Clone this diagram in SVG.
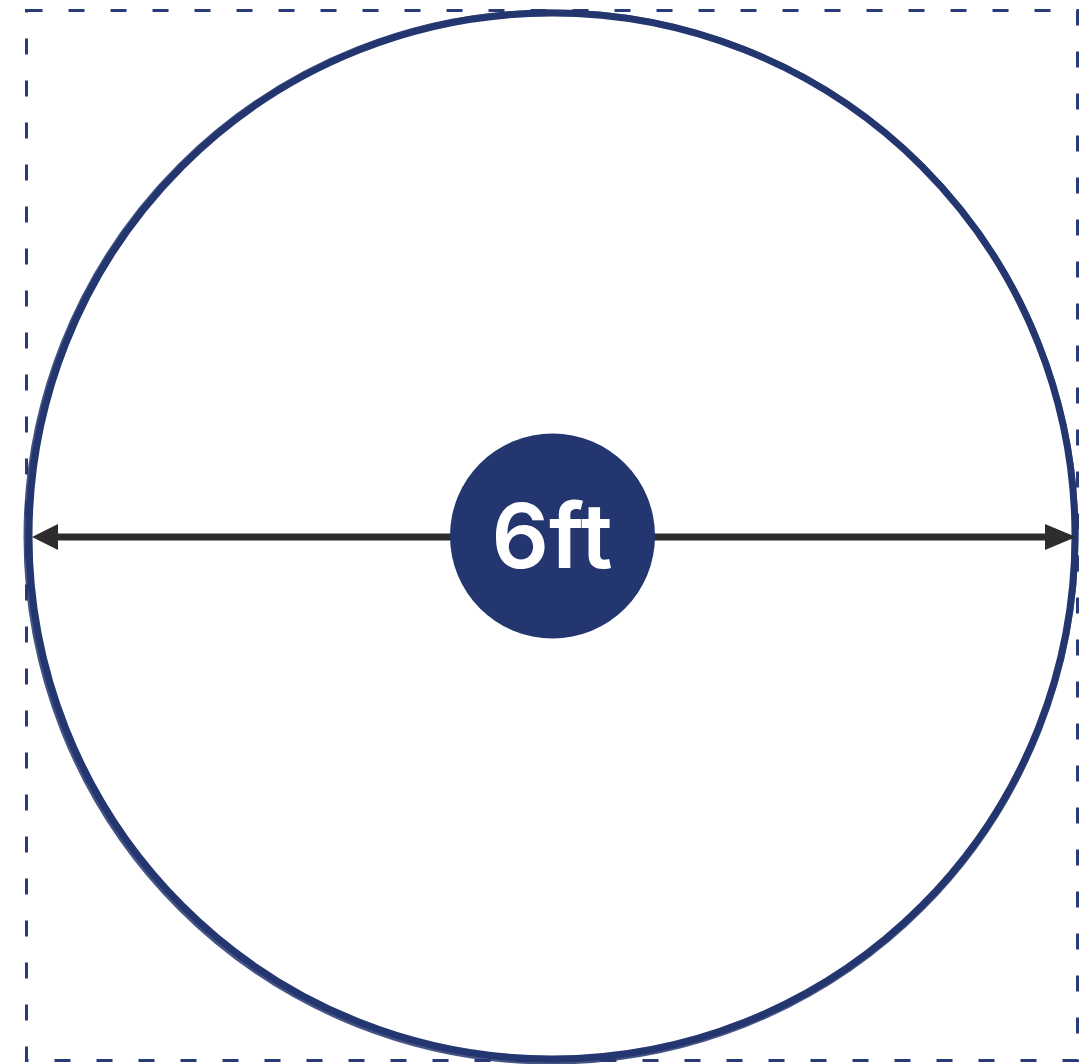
<svg xmlns="http://www.w3.org/2000/svg" width="1083" height="1064" viewBox="0 0 1083 1064">
<style>
.border{fill:none;stroke:#2b3a78;stroke-width:3;stroke-dasharray:16 26}
.ring{fill:none;stroke:#24366f;stroke-width:7}
.ring2{fill:none;stroke:#24366f;stroke-width:3;opacity:0.85}
.dim{stroke:#2d2d2d;stroke-width:7;fill:none}
.head{fill:#2d2d2d}
.badge{fill:#24366f}
.label{fill:#ffffff;font-family:Inter,"Open Sans","Liberation Sans",sans-serif;font-weight:600;font-size:90px;text-anchor:middle}
</style>
<rect width="1083" height="1064" fill="#ffffff"/>
<g id="border"><rect class="border" x="26.5" y="10.5" width="1051" height="1050"/></g>
<g id="circle">
<circle class="ring" cx="552" cy="536" r="523"/>
<circle class="ring2" cx="551" cy="537" r="526"/>
</g>
<g id="connectors">
<line class="dim" x1="56" y1="537" x2="1048" y2="537"/>
<polygon class="head" points="32,537 58,524 58,550"/>
<polygon class="head" points="1076,537 1045,524 1045,550"/>
</g>
<g id="label">
<circle class="badge" cx="552.5" cy="536" r="102.5"/>
<text class="label" x="552" y="568">6ft</text>
</g>
</svg>
